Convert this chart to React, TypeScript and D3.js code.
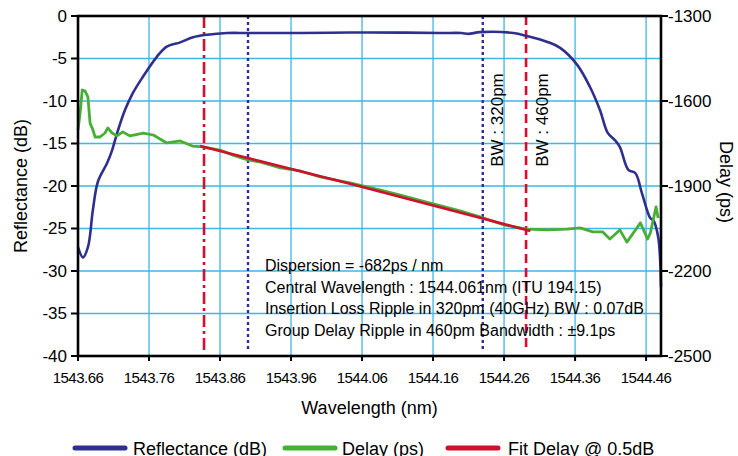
import React from "react";
import * as d3 from "d3";

// Reflectance (dB)
const reflWl = [1543.660, 1543.667, 1543.674, 1543.681, 1543.688, 1543.701, 1543.708, 1543.715, 1543.726, 1543.737, 1543.751, 1543.771, 1543.785, 1543.804, 1543.822, 1543.842, 1543.870, 1543.899, 1543.973, 1544.043, 1544.114, 1544.170, 1544.200, 1544.210, 1544.226, 1544.273, 1544.292, 1544.321, 1544.339, 1544.363, 1544.381, 1544.395, 1544.406, 1544.416, 1544.423, 1544.435, 1544.445, 1544.454, 1544.466, 1544.470, 1544.477, 1544.481];
const reflDb = [-27.2, -28.4, -27.2, -22.8, -19.5, -17.3, -15.8, -13.8, -11.1, -9.1, -7.2, -4.8, -3.6, -3.1, -2.5, -2.2, -2.0, -2.0, -2.0, -1.95, -1.95, -2.0, -2.0, -2.1, -1.9, -2.0, -2.35, -3.05, -3.75, -5.75, -8.35, -11.05, -13.75, -14.6, -15.4, -18.1, -18.5, -20.8, -23.8, -24.0, -26.0, -31.9];

// Group delay (ps)
const delayWl = [1543.660, 1543.663, 1543.666, 1543.670, 1543.674, 1543.677, 1543.681, 1543.684, 1543.691, 1543.698, 1543.702, 1543.708, 1543.715, 1543.723, 1543.733, 1543.752, 1543.766, 1543.785, 1543.804, 1543.821, 1543.836, 1543.860, 1543.878, 1543.899, 1543.916, 1543.945, 1543.973, 1544.001, 1544.043, 1544.085, 1544.114, 1544.156, 1544.198, 1544.226, 1544.261, 1544.292, 1544.321, 1544.349, 1544.367, 1544.385, 1544.399, 1544.409, 1544.423, 1544.433, 1544.452, 1544.462, 1544.466, 1544.470, 1544.474, 1544.477];
const delayPs = [-1702, -1642, -1561, -1565, -1586, -1678, -1702, -1727, -1727, -1713, -1695, -1713, -1723, -1709, -1723, -1713, -1720, -1748, -1741, -1759, -1762, -1773, -1791, -1808, -1815, -1836, -1847, -1868, -1889, -1914, -1932, -1960, -1988, -2009, -2038, -2052, -2055, -2052, -2048, -2062, -2062, -2087, -2055, -2098, -2030, -2087, -2066, -2020, -1974, -2013];

// linear fit over the 460pm band
const fitWl = [1543.832, 1544.043, 1544.297];
const fitPs = [-1759, -1892, -2059];

const xTicks = [1543.66, 1543.76, 1543.86, 1543.96, 1544.06, 1544.16, 1544.26, 1544.36, 1544.46];
const leftTicks = [0, -5, -10, -15, -20, -25, -30, -35, -40];
const rightTicks = [-1300, -1600, -1900, -2200, -2500];

const bw460 = [1543.8375, 1544.291];
const bw320 = [1543.8994, 1544.230];

const notes = [
  "Dispersion = -682ps / nm",
  "Central Wavelength : 1544.061nm (ITU 194.15)",
  "Insertion Loss Ripple in 320pm (40GHz) BW : 0.07dB",
  "Group Delay Ripple in 460pm Bandwidth : \u00b19.1ps",
];

const BLUE = "#2f2f8f";
const GREEN = "#45b035";
const RED = "#d0102c";
const GRID = "#3db6e8";
const FONT = "'Liberation Sans', Arial, sans-serif";

export default function App() {
  const width = 738, height = 456;
  const m = { top: 16, right: 77, bottom: 100, left: 78 };
  const x = d3.scaleLinear().domain([1543.66, 1544.481]).range([m.left, width - m.right]);
  const yL = d3.scaleLinear().domain([-40, 0]).range([height - m.bottom, m.top]);
  const yR = d3.scaleLinear().domain([-2500, -1300]).range([height - m.bottom, m.top]);
  const x0 = m.left, x1 = width - m.right, y0 = m.top, y1 = height - m.bottom;

  const reflLine = d3.line<number>()
    .x((d, i) => x(reflWl[i]))
    .y((d) => yL(d))
    .curve(d3.curveCatmullRom.alpha(0.5));
  const delayLine = d3.line<number>()
    .x((d, i) => x(delayWl[i]))
    .y((d) => yR(d));
  const fitLine = d3.line<number>()
    .x((d, i) => x(fitWl[i]))
    .y((d) => yR(d));

  const legend = [
    { label: "Reflectance (dB)", color: BLUE, lx: 75, tx: 133 },
    { label: "Delay (ps)", color: GREEN, lx: 285, tx: 342 },
    { label: "Fit Delay @ 0.5dB", color: RED, lx: 448, tx: 508 },
  ];

  return (
    <svg width={width} height={height} style={{ position: "absolute", left: 0, top: 0, background: "#fff" }} fontFamily={FONT}>
      {/* grid */}
      {leftTicks.slice(1, -1).map((t) => (
        <line key={"h" + t} x1={x0} x2={x1} y1={yL(t)} y2={yL(t)} stroke={GRID} strokeWidth={1.3} />
      ))}
      {xTicks.slice(1).map((t) => (
        <line key={"v" + t} x1={x(t)} x2={x(t)} y1={y0} y2={y1} stroke={GRID} strokeWidth={1.3} />
      ))}

      {/* bandwidth markers */}
      <line x1={x(bw460[0])} x2={x(bw460[0])} y1={y0} y2={y1 - 4} stroke={RED} strokeWidth={2.6} strokeDasharray="12,4,3,4" />
      <line x1={x(bw460[1])} x2={x(bw460[1])} y1={y0} y2={y1 - 4} stroke={RED} strokeWidth={2.6} strokeDasharray="9,5" />
      {bw320.map((w) => (
        <line key={w} x1={x(w)} x2={x(w)} y1={y0} y2={y1 - 4} stroke={BLUE} strokeWidth={2.4} strokeDasharray="3,3" />
      ))}

      {/* series */}
      <path d={reflLine(reflDb) || ""} fill="none" stroke={BLUE} strokeWidth={2.6} strokeLinejoin="round" />
      <path d={delayLine(delayPs) || ""} fill="none" stroke={GREEN} strokeWidth={2.8} strokeLinejoin="round" />
      <path d={fitLine(fitPs) || ""} fill="none" stroke={RED} strokeWidth={2.6} />

      {/* frame */}
      <rect x={x0} y={y0} width={x1 - x0} height={y1 - y0} fill="none" stroke="#000" strokeWidth={2.6} />

      {/* left axis */}
      {leftTicks.map((t) => (
        <g key={"l" + t}>
          <line x1={x0 - 7} x2={x0} y1={yL(t)} y2={yL(t)} stroke="#000" strokeWidth={2} />
          <text x={x0 - 11} y={yL(t)} textAnchor="end" dominantBaseline="central" fontSize={17}>{t}</text>
        </g>
      ))}
      {/* right axis */}
      {rightTicks.map((t) => (
        <g key={"r" + t}>
          <line x1={x1} x2={x1 + 7} y1={yR(t)} y2={yR(t)} stroke="#000" strokeWidth={2} />
          <text x={x1 + 7} y={yR(t)} textAnchor="start" dominantBaseline="central" fontSize={17}>{t}</text>
        </g>
      ))}
      {/* bottom axis */}
      {xTicks.map((t) => (
        <g key={"b" + t}>
          <line x1={x(t)} x2={x(t)} y1={y1} y2={y1 + 5} stroke="#000" strokeWidth={2} />
          <text x={x(t)} y={383} textAnchor="middle" fontSize={15} letterSpacing={-0.5}>{t.toFixed(2)}</text>
        </g>
      ))}

      {/* axis titles */}
      <text transform="translate(21,186) rotate(-90)" textAnchor="middle" dominantBaseline="central" fontSize={18}>Reflectance (dB)</text>
      <text transform="translate(726,182) rotate(90)" textAnchor="middle" dominantBaseline="central" fontSize={18}>Delay (ps)</text>
      <text x={(x0 + x1) / 2} y={414} textAnchor="middle" fontSize={18}>Wavelength (nm)</text>

      {/* bandwidth labels */}
      <text transform={`translate(${x(bw320[1]) + 15},120) rotate(-90)`} textAnchor="middle" dominantBaseline="central" fontSize={17}>BW : 320pm</text>
      <text transform={`translate(${x(bw460[1]) + 16},120) rotate(-90)`} textAnchor="middle" dominantBaseline="central" fontSize={17}>BW : 460pm</text>

      {/* notes */}
      {notes.map((n, i) => (
        <text key={n} x={265} y={271 + i * 21.6} fontSize={16}>{n}</text>
      ))}

      {/* legend */}
      {legend.map((l) => (
        <g key={l.label}>
          <line x1={l.lx} x2={l.lx + 50} y1={448} y2={448} stroke={l.color} strokeWidth={5} strokeLinecap="round" />
          <text x={l.tx} y={455} fontSize={18}>{l.label}</text>
        </g>
      ))}
    </svg>
  );
}
